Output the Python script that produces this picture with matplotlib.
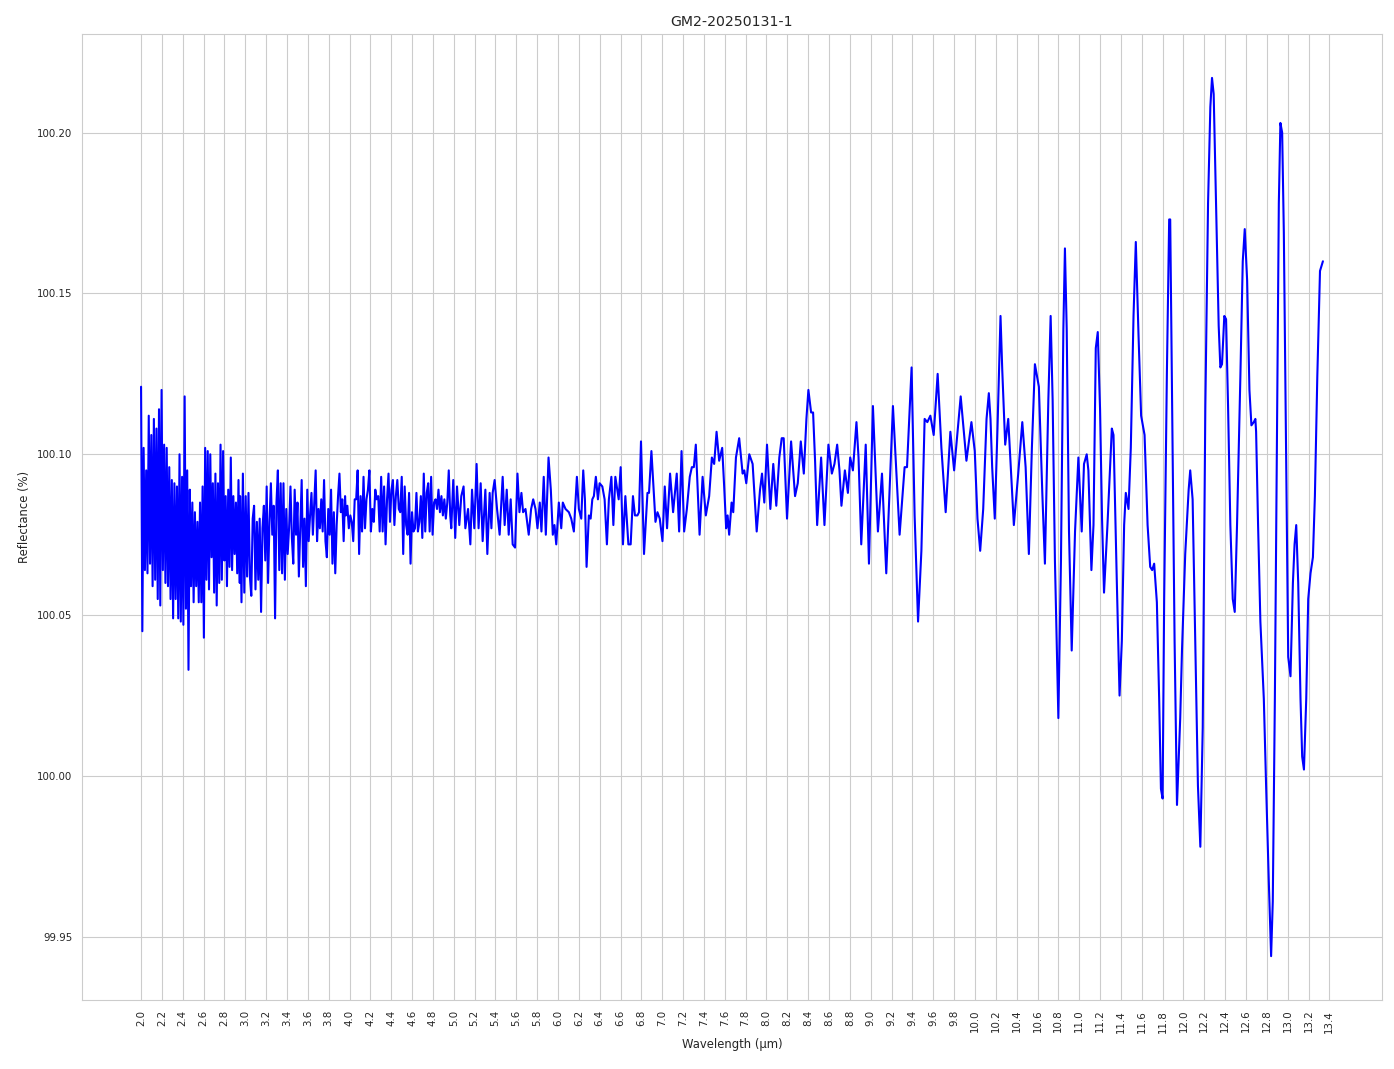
import numpy as np
import matplotlib
matplotlib.use("Agg")
import matplotlib.pyplot as plt
import seaborn as sns
from matplotlib.ticker import FormatStrFormatter

sns.set_style("whitegrid")
plt.rcParams['font.family'] = ['DejaVu Sans']

noisy_a_range = (2.000, 2.947)
noisy_a = [100.121, 100.045, 100.102, 100.064, 100.095, 100.063, 100.112, 100.066, 100.106, 100.059,
           100.111, 100.061, 100.108, 100.055, 100.114, 100.053, 100.120, 100.064, 100.103, 100.060,
           100.102, 100.059, 100.096, 100.055, 100.092, 100.049, 100.091, 100.055, 100.090, 100.049,
           100.100, 100.048, 100.093, 100.047, 100.118, 100.052, 100.095, 100.033, 100.089, 100.059,
           100.085, 100.054, 100.082, 100.059, 100.079, 100.054, 100.085, 100.054, 100.090, 100.043,
           100.102, 100.061, 100.101, 100.058, 100.100, 100.068, 100.091, 100.057, 100.094, 100.053,
           100.091, 100.060, 100.103, 100.061, 100.101, 100.067, 100.087, 100.059, 100.089, 100.065,
           100.099, 100.064, 100.087, 100.069, 100.085, 100.063, 100.092, 100.060]

noisy_b_range = (2.950, 3.957)
noisy_b = [100.087, 100.054, 100.094, 100.057, 100.087, 100.062, 100.088, 100.062, 100.056, 100.080,
           100.084, 100.058, 100.079, 100.061, 100.080, 100.051, 100.077, 100.084, 100.067, 100.090,
           100.060, 100.079, 100.091, 100.075, 100.084, 100.049, 100.085, 100.095, 100.064, 100.091,
           100.063, 100.091, 100.061, 100.083, 100.069, 100.077, 100.090, 100.074, 100.066, 100.089,
           100.075, 100.085, 100.062, 100.077, 100.092, 100.065, 100.080, 100.059, 100.089, 100.073,
           100.081, 100.088, 100.075, 100.085, 100.095, 100.073, 100.083, 100.077, 100.086, 100.076,
           100.092, 100.073, 100.068, 100.083, 100.075, 100.089, 100.066, 100.082, 100.063, 100.078,
           100.087, 100.094, 100.082, 100.086, 100.073, 100.087]

noisy_c_range = (3.965, 4.966)
noisy_c = [100.081, 100.084, 100.077, 100.081, 100.079, 100.073, 100.086, 100.086, 100.095, 100.069,
           100.087, 100.076, 100.093, 100.077, 100.086, 100.089, 100.095, 100.076, 100.083, 100.079,
           100.089, 100.086, 100.087, 100.076, 100.093, 100.076, 100.090, 100.072, 100.086, 100.094,
           100.079, 100.089, 100.092, 100.078, 100.087, 100.092, 100.083, 100.082, 100.093, 100.069,
           100.090, 100.078, 100.075, 100.088, 100.066, 100.082, 100.076, 100.077, 100.088, 100.076,
           100.079, 100.087, 100.074, 100.094, 100.076, 100.088, 100.091, 100.076, 100.093, 100.075,
           100.085, 100.086, 100.083, 100.089, 100.082, 100.087, 100.081, 100.086, 100.080, 100.085,
           100.095, 100.081]

# 5 - 9 um
wl_mid = [4.976, 4.995, 5.014, 5.031, 5.053, 5.072, 5.094, 5.111, 5.137, 5.159, 5.175, 5.197, 5.219, 5.238,
          5.258, 5.277, 5.303, 5.322, 5.344, 5.361, 5.373, 5.392, 5.415, 5.440, 5.469, 5.488, 5.508, 5.527,
          5.546, 5.565, 5.588, 5.611, 5.630, 5.649, 5.665, 5.688, 5.719, 5.742, 5.762, 5.784, 5.803, 5.825,
          5.841, 5.863, 5.883, 5.909, 5.931, 5.950,
          5.966, 5.983, 6.008, 6.031, 6.046, 6.072, 6.104, 6.127, 6.152, 6.181, 6.200, 6.223, 6.242, 6.258,
          6.274, 6.296, 6.313, 6.329, 6.344, 6.363, 6.383, 6.399, 6.425, 6.447, 6.469, 6.488, 6.512, 6.531,
          6.550, 6.582, 6.601, 6.623, 6.646, 6.675, 6.697, 6.719, 6.738, 6.762, 6.777, 6.796, 6.825, 6.858,
          6.873, 6.896, 6.915, 6.935, 6.954,
          6.976, 7.002, 7.024, 7.046, 7.075, 7.104, 7.139, 7.162, 7.185, 7.210, 7.236, 7.264, 7.284, 7.303,
          7.322, 7.358, 7.387, 7.418, 7.450, 7.476, 7.498, 7.521, 7.546, 7.575, 7.594, 7.613, 7.627, 7.642,
          7.665, 7.681, 7.707, 7.738, 7.771, 7.787, 7.806, 7.835, 7.867, 7.906, 7.938, 7.957, 7.979,
          8.005, 8.037, 8.065, 8.094, 8.123, 8.146, 8.165, 8.197, 8.236, 8.274, 8.300, 8.329, 8.358, 8.383,
          8.402, 8.428, 8.447, 8.466, 8.486, 8.524, 8.556, 8.594, 8.627, 8.652, 8.678, 8.700, 8.719, 8.752,
          8.781, 8.803, 8.829, 8.863, 8.883, 8.909, 8.952]
r_mid = [100.077, 100.092, 100.074, 100.090, 100.078, 100.087, 100.090, 100.077, 100.083, 100.072, 100.089,
         100.077, 100.097, 100.077, 100.091, 100.073, 100.089, 100.069, 100.088, 100.077, 100.088, 100.092,
         100.083, 100.075, 100.093, 100.078, 100.089, 100.075, 100.086, 100.072, 100.071, 100.094, 100.082,
         100.088, 100.082, 100.083, 100.075, 100.083, 100.086, 100.083, 100.077, 100.085, 100.076, 100.093,
         100.075, 100.099, 100.089, 100.075,
         100.078, 100.072, 100.085, 100.077, 100.085, 100.083, 100.082, 100.080, 100.076, 100.093, 100.083,
         100.080, 100.095, 100.086, 100.065, 100.081, 100.080, 100.086, 100.087, 100.093, 100.086, 100.091,
         100.090, 100.086, 100.072, 100.086, 100.093, 100.078, 100.093, 100.086, 100.096, 100.072, 100.087,
         100.072, 100.072, 100.087, 100.081, 100.081, 100.082, 100.104, 100.069, 100.088, 100.088, 100.101,
         100.090, 100.079, 100.082,
         100.080, 100.073, 100.090, 100.077, 100.094, 100.082, 100.094, 100.076, 100.101, 100.076, 100.083,
         100.093, 100.096, 100.096, 100.103, 100.075, 100.093, 100.081, 100.087, 100.099, 100.097, 100.107,
         100.098, 100.102, 100.090, 100.077, 100.081, 100.075, 100.085, 100.082, 100.099, 100.105, 100.094,
         100.095, 100.091, 100.100, 100.097, 100.076, 100.089, 100.094, 100.085,
         100.103, 100.083, 100.097, 100.084, 100.099, 100.105, 100.105, 100.080, 100.104, 100.087, 100.091,
         100.104, 100.094, 100.111, 100.120, 100.113, 100.113, 100.098, 100.078, 100.099, 100.078, 100.103,
         100.094, 100.097, 100.103, 100.095, 100.084, 100.095, 100.088, 100.099, 100.095, 100.110, 100.099,
         100.072, 100.103]

# 9 - 13.4 um
wl_long = [8.983, 9.021, 9.069, 9.108, 9.149, 9.213, 9.277, 9.325, 9.348, 9.392, 9.421, 9.454, 9.486, 9.517,
           9.543, 9.572, 9.604, 9.642, 9.678, 9.719, 9.764, 9.800, 9.863, 9.918, 9.966,
           9.998, 10.024, 10.050, 10.079, 10.111, 10.133, 10.149, 10.165, 10.190, 10.216, 10.245, 10.262,
           10.290, 10.319, 10.344, 10.373, 10.415, 10.454, 10.486, 10.517, 10.546, 10.575, 10.613, 10.646,
           10.671, 10.704, 10.726, 10.745, 10.767, 10.800, 10.825, 10.848, 10.863, 10.880, 10.902, 10.928,
           10.960, 10.992,
           11.024, 11.046, 11.072, 11.088, 11.117, 11.137, 11.159, 11.178, 11.200, 11.219, 11.238, 11.271,
           11.313, 11.329, 11.361, 11.387, 11.409, 11.431, 11.447, 11.473, 11.495, 11.521, 11.543, 11.569,
           11.594, 11.627, 11.656, 11.681, 11.700, 11.719, 11.745, 11.767, 11.784, 11.800, 11.815, 11.841,
           11.863, 11.873, 11.896, 11.915, 11.938, 11.954, 11.969, 11.986,
           12.017, 12.050, 12.065, 12.088, 12.113, 12.139, 12.162, 12.185, 12.210, 12.236, 12.258, 12.274,
           12.290, 12.313, 12.338, 12.354, 12.370, 12.392, 12.409, 12.428, 12.450, 12.473, 12.492, 12.514,
           12.546, 12.569, 12.588, 12.611, 12.633, 12.652, 12.675, 12.690, 12.697, 12.716, 12.738, 12.771,
           12.793, 12.819, 12.841, 12.857, 12.877, 12.899, 12.915, 12.930, 12.947, 12.963, 12.986,
           13.005, 13.027, 13.050, 13.066, 13.082, 13.101, 13.123, 13.139, 13.156, 13.178, 13.197, 13.219,
           13.242, 13.261, 13.284, 13.310, 13.338]
r_long = [100.066, 100.115, 100.076, 100.094, 100.063, 100.115, 100.075, 100.096, 100.096, 100.127, 100.081,
          100.048, 100.070, 100.111, 100.110, 100.112, 100.106, 100.125, 100.102, 100.082, 100.107, 100.095,
          100.118, 100.098, 100.110,
          100.101, 100.080, 100.070, 100.083, 100.111, 100.119, 100.111, 100.096, 100.080, 100.108, 100.143,
          100.126, 100.103, 100.111, 100.096, 100.078, 100.094, 100.110, 100.096, 100.069, 100.102, 100.128,
          100.121, 100.088, 100.066, 100.117, 100.143, 100.117, 100.067, 100.018, 100.067, 100.139, 100.164,
          100.139, 100.076, 100.039, 100.076, 100.099,
          100.076, 100.097, 100.100, 100.095, 100.064, 100.078, 100.133, 100.138, 100.114, 100.080, 100.057,
          100.078, 100.108, 100.106, 100.060, 100.025, 100.042, 100.078, 100.088, 100.083, 100.102, 100.143,
          100.166, 100.137, 100.112, 100.106, 100.078, 100.065, 100.064, 100.066, 100.054, 100.024, 99.996,
          99.993, 100.055, 100.125, 100.173, 100.173, 100.102, 100.042, 99.991, 100.005, 100.018, 100.039,
          100.069, 100.089, 100.095, 100.086, 100.042, 99.997, 99.978, 100.015, 100.115, 100.178, 100.208,
          100.217, 100.212, 100.178, 100.140, 100.127, 100.128, 100.143, 100.142, 100.115, 100.078, 100.055,
          100.051, 100.078, 100.124, 100.160, 100.170, 100.154, 100.120, 100.109, 100.110, 100.111, 100.107,
          100.078, 100.048, 100.024, 99.997, 99.967, 99.944, 99.961, 100.024, 100.115, 100.178, 100.203,
          100.200, 100.169, 100.096,
          100.037, 100.031, 100.060, 100.072, 100.078, 100.060, 100.024, 100.006, 100.002, 100.024, 100.055,
          100.063, 100.068, 100.087, 100.124, 100.157, 100.160]

x_ticks = np.round(np.arange(2.0, 13.41, 0.2), 1)
y_ticks = [99.95, 100.00, 100.05, 100.10, 100.15, 100.20]

wl = np.concatenate([np.linspace(*noisy_a_range, len(noisy_a)),
                     np.linspace(*noisy_b_range, len(noisy_b)),
                     np.linspace(*noisy_c_range, len(noisy_c)),
                     wl_mid, wl_long])
refl = np.concatenate([noisy_a, noisy_b, noisy_c, r_mid, r_long])

fig = plt.figure(figsize=(13.94, 10.69), dpi=100)
ax = fig.add_axes([0.0588, 0.0645, 0.9326, 0.9037])
ax.plot(wl, refl, color='blue', linewidth=1.5)

ax.set_title("GM2-20250131-1", fontsize=10.2)
ax.set_xlabel("Wavelength (μm)", fontsize=8.4)
ax.set_ylabel("Reflectance (%)", fontsize=8.4)
ax.set_xticks(x_ticks)
ax.set_xticklabels([f"{t:.1f}" for t in x_ticks], rotation=90)
ax.set_yticks(y_ticks)
ax.yaxis.set_major_formatter(FormatStrFormatter('%.2f'))
ax.tick_params(axis='both', labelsize=7.4)

fig.savefig("out.png", dpi=100)
